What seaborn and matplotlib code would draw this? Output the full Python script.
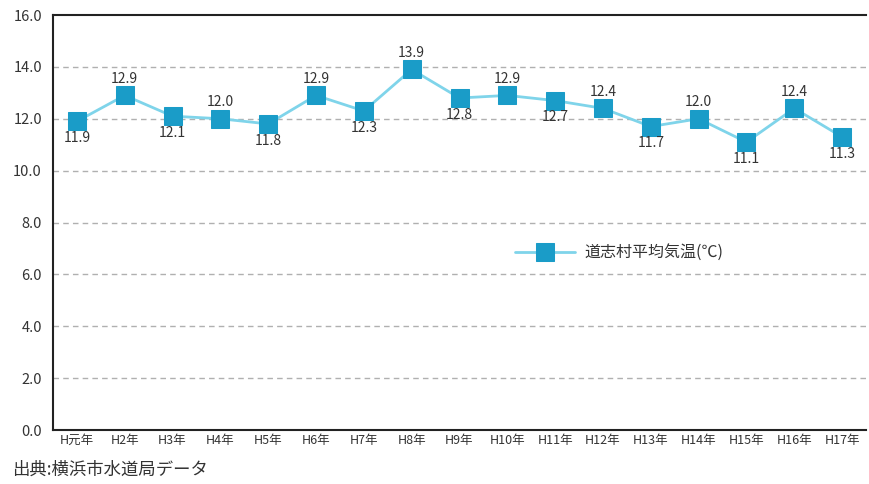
import numpy as np
import pandas as pd
import matplotlib
matplotlib.use("Agg")
import matplotlib.pyplot as plt
import seaborn as sns

# Data

years = ["H元年", "H2年", "H3年", "H4年", "H5年", "H6年", "H7年", "H8年", "H9年",
         "H10年", "H11年", "H12年", "H13年", "H14年", "H15年", "H16年", "H17年"]
temps = [11.9, 12.9, 12.1, 12.0, 11.8, 12.9, 12.3, 13.9, 12.8,
         12.9, 12.7, 12.4, 11.7, 12.0, 11.1, 12.4, 11.3]
label_above = [False, True, False, True, False, True, False, True, False,
               True, False, True, False, True, False, True, False]
series_name = "道志村平均気温(℃)"
source_note = "出典:横浜市水道局データ"

df = pd.DataFrame({"pos": range(len(years)), "temp": temps, "series": series_name})

# Style

sns.set_style("white")
plt.rcParams["font.family"] = ["Noto Sans CJK JP", "DejaVu Sans"]

fig = plt.figure(figsize=(8.69, 4.84), dpi=100)
ax = fig.add_axes([53 / 869, 1 - 430 / 484, (866 - 53) / 869, (430 - 15) / 484])

sns.lineplot(
    data=df,
    x="pos",
    y="temp",
    hue="series",
    palette=["#7fd4ea"],
    linewidth=2,
    marker="s",
    markersize=12.5,
    markerfacecolor="#1a9cc8",
    markeredgecolor="#1a9cc8",
    ax=ax
)

for i, v in enumerate(temps):
    if label_above[i]:
        ax.text(i, v + 0.38, f"{v:.1f}", ha="center", va="bottom", fontsize=10, color="#333333")
    else:
        ax.text(i, v - 0.38, f"{v:.1f}", ha="center", va="top", fontsize=10, color="#333333")

# Axes

ax.set_xlim(-0.5, len(years) - 0.5)
ax.set_ylim(0, 16)
ax.set_yticks(np.arange(0, 17, 2))
ax.set_yticklabels([f"{t:.1f}" for t in np.arange(0, 17, 2)], fontsize=10.5, color="#333333")
ax.set_xticks(range(len(years)))
ax.set_xticklabels(years, fontsize=9, color="#333333")
ax.set_xticks(np.arange(0.5, len(years) - 0.5, 1), minor=True)
ax.tick_params(axis="x", which="major", length=0, pad=3)
ax.tick_params(axis="x", which="minor", length=5, width=1, color="#222222", direction="in")
ax.tick_params(axis="y", length=0, pad=8)
ax.set_xlabel("")
ax.set_ylabel("")

for y in np.arange(2, 16, 2):
    ax.axhline(y, color="#b0b0b0", linestyle=(0, (4, 3)), linewidth=1, zorder=0)

for side in ["top", "left", "bottom"]:
    ax.spines[side].set_color("#222222")
    ax.spines[side].set_linewidth(1.5)
ax.spines["right"].set_visible(False)

leg = ax.legend(
    loc="center left",
    bbox_to_anchor=(0.55, 0.427),
    frameon=False,
    fontsize=11.5,
    handlelength=3.8,
    handletextpad=0.6
)
for t in leg.get_texts():
    t.set_color("#333333")

fig.text(12 / 869, 1 - 470 / 484, source_note, fontsize=12.5, color="#333333", va="center")

plt.savefig("out.png", dpi=100)
